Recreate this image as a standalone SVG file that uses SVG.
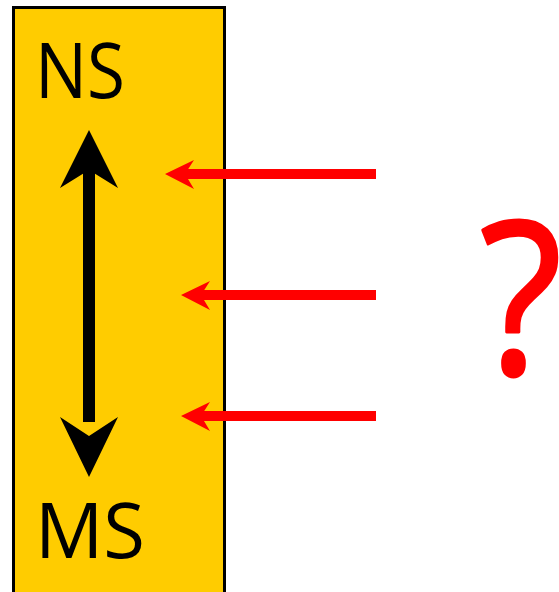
<svg xmlns="http://www.w3.org/2000/svg" width="559" height="592" viewBox="0 0 559 592">
<style>
.lbl{font-family:"Open Sans","Liberation Sans",sans-serif;font-size:76px;fill:#000}
.red{stroke:#FF0000;stroke-width:10;fill:none}
.redhead{fill:#FF0000}
</style>
<rect width="559" height="592" fill="#fff"/>
<g id="bar">
<rect x="13.5" y="7.5" width="211" height="600" fill="#FFCC00" stroke="#000" stroke-width="3"/>
<text class="lbl" x="35" y="98" textLength="90" lengthAdjust="spacingAndGlyphs">NS</text>
<text class="lbl" x="35" y="558">MS</text>
</g>
<g id="double-arrow">
<rect x="83" y="168" width="12" height="254" fill="#000"/>
<path d="M89,130 L118,188 L89,170 L60,188 Z" fill="#000"/>
<path d="M89,477 L118,417 L89,436 L60,417 Z" fill="#000"/>
</g>
<g id="connectors">
<line class="red" x1="376" y1="174" x2="180" y2="174"/>
<path class="redhead" d="M165,174 L194,160 L185,174 L194,189 Z"/>
<line class="red" x1="376" y1="295" x2="196" y2="295"/>
<path class="redhead" d="M181,295 L210,281 L201,295 L210,310 Z"/>
<line class="red" x1="376" y1="416" x2="196" y2="416"/>
<path class="redhead" d="M181,416 L210,402 L201,416 L210,431 Z"/>
</g>
<g id="question">
<text transform="translate(521,374) scale(0.9,1)" x="0" y="0" text-anchor="middle" font-family="Open Sans, Liberation Sans, sans-serif" font-size="212" fill="#FF0000" stroke="#FF0000" stroke-width="3" stroke-linejoin="round">?</text>
</g>
</svg>
